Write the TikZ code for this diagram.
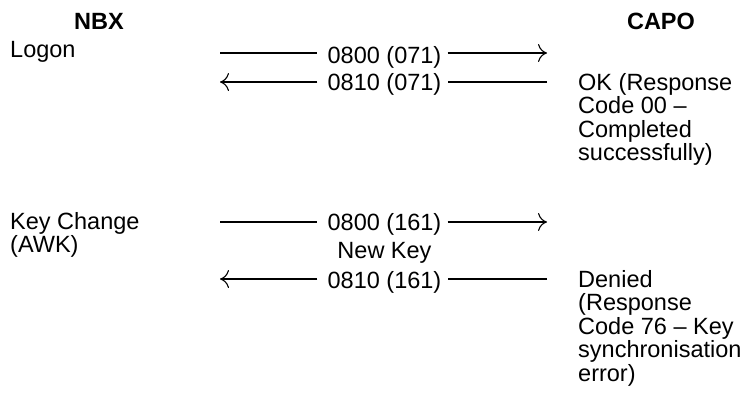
\documentclass[tikz,border=0pt]{standalone}
\usepackage{fontspec}
\setmainfont{Liberation Sans}
\usetikzlibrary{arrows.meta}
\begin{document}
\begin{tikzpicture}[x=1pt,y=-1pt,
  txt/.style={inner sep=0pt, font=\fontsize{23.5}{23.5}\selectfont},
  hdr/.style={inner sep=0pt, anchor=base, font=\fontsize{23.5}{23.5}\selectfont\bfseries},
  msg/.style={txt, anchor=base},
  para/.style={txt, anchor=base west, align=left},
  conn/.style={line width=1.1pt, draw=black},
  tip/.style={-{To[length=9pt,width=18pt]}}
]
\useasboundingbox (0,0) rectangle (746,397);
% headers
\node[hdr] (nbx) at (99,29) {NBX};
\node[hdr] (capo) at (661,29) {CAPO};
% left column (anchor at baseline of last line)
\node[para] (logon) at (10,57) {Logon};
\node[para] (keychange) at (10,252.5) {Key Change\\(AWK)};
% right column
\node[para] (ok) at (578,160.5) {OK (Response\\Code 00 --\\Completed\\successfully)};
\node[para] (denied) at (578,381) {Denied\\(Response\\Code 76 -- Key\\synchronisation\\error)};
% message labels
\node[msg] (m1) at (384.5,63) {0800 (071)};
\node[msg] (m2) at (384.5,90) {0810 (071)};
\node[msg] (m3) at (384.5,230) {0800 (161)};
\node[msg] (newkey) at (384.5,258) {New Key};
\node[msg] (m4) at (384.5,288) {0810 (161)};
% arrow ends
\coordinate (s1) at (220,53);  \coordinate (e1) at (547,53);
\coordinate (s2) at (220,82);  \coordinate (e2) at (547,82);
\coordinate (s3) at (220,222); \coordinate (e3) at (547,222);
\coordinate (s4) at (220,279); \coordinate (e4) at (547,279);
% connectors
\draw[conn] (s1) -- ([xshift=-10pt]s1 -| m1.west);
\draw[conn,tip] ([xshift=6pt]s1 -| m1.east) -- (e1);
\draw[conn,tip] ([xshift=-10pt]s2 -| m2.west) -- (s2);
\draw[conn] (e2) -- ([xshift=6pt]e2 -| m2.east);
\draw[conn] (s3) -- ([xshift=-10pt]s3 -| m3.west);
\draw[conn,tip] ([xshift=6pt]s3 -| m3.east) -- (e3);
\draw[conn,tip] ([xshift=-10pt]s4 -| m4.west) -- (s4);
\draw[conn] (e4) -- ([xshift=6pt]e4 -| m4.east);
\end{tikzpicture}
\end{document}
